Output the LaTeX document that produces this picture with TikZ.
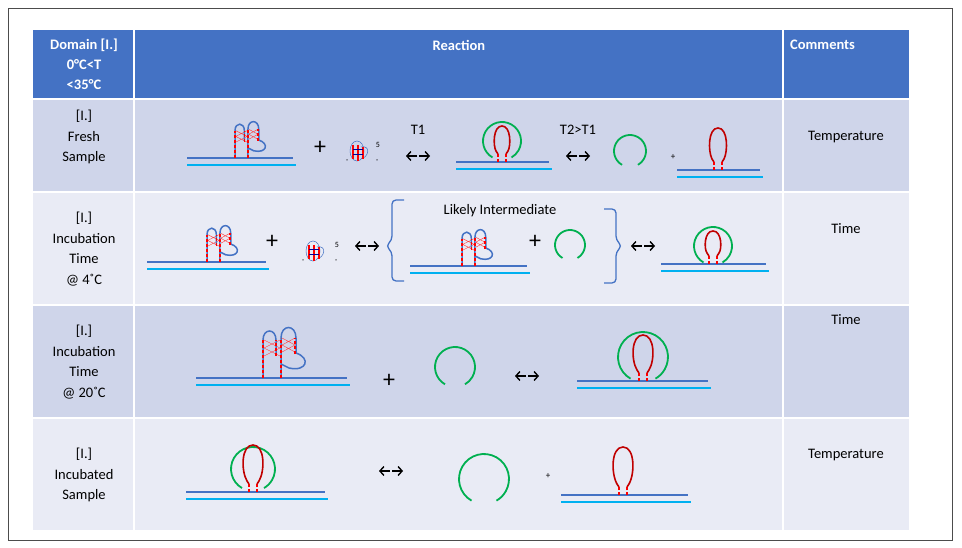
\documentclass[tikz,border=0pt]{standalone}
\usepackage{fontspec}
\setmainfont{Carlito}
\usetikzlibrary{arrows.meta}
\begin{document}
\begin{tikzpicture}[x=1pt,y=-1pt,
 dk/.style={draw={rgb,255:red,68;green,114;blue,196},line width=1.6pt},
 lt/.style={draw={rgb,255:red,0;green,176;blue,240},line width=1.6pt},
 rd/.style={draw={rgb,255:red,192;green,0;blue,0},line width=1.6pt},
 gr/.style={draw={rgb,255:red,0;green,176;blue,80},line width=1.8pt},
 bl/.style={draw={rgb,255:red,68;green,114;blue,196},line width=1.8pt},
 tx/.style={font=\fontsize{14.5}{20.5}\selectfont,align=center,inner sep=0},
 hd/.style={tx,text=white,font=\fontsize{14.5}{20}\selectfont\bfseries},
 ar/.style={line width=1.4pt,-{Straight Barb[length=4pt,width=9pt]}},
 pl/.style={font=\fontsize{24}{24}\selectfont,inner sep=0}]
\useasboundingbox (0,0) rectangle (962,548);
\fill[white] (0,0) rectangle (962,548);
\draw[black!70,line width=0.8pt] (8,8) rectangle (952,540);
\definecolor{hdr}{RGB}{68,114,196}
\definecolor{ra}{RGB}{207,213,234}
\definecolor{rb}{RGB}{233,235,245}
\fill[hdr] (33,30) rectangle (909,99);
\fill[ra] (33,99) rectangle (909,192);
\fill[rb] (33,192) rectangle (909,305);
\fill[ra] (33,305) rectangle (909,418);
\fill[rb] (33,418) rectangle (909,530);
\foreach \yy in {99,192,305,418} \draw[white,line width=1.5pt] (33,\yy) -- (909,\yy);
\foreach \xx in {134,783} \draw[white,line width=1.5pt] (\xx,30) -- (\xx,530);
\newcommand\dup[3]{\draw[dk] (#1,#3) -- (#2,#3); \draw[lt] (#1,#3+7) -- (#2+3,#3+7);}
\newcommand\hp[4]{% x y h w
 \draw[red,line width=1.2pt,densely dashed] (#1-4,#2) -- (#1-4,#2-8) (#1+4,#2) -- (#1+4,#2-8);
 \draw[rd] (#1-4,#2-8) -- (#1-6,#2-11) .. controls (#1-#4,#2-0.45*#3) and (#1-#4,#2-#3) .. (#1,#2-#3)
   .. controls (#1+#4,#2-#3) and (#1+#4,#2-0.45*#3) .. (#1+6,#2-11) -- (#1+4,#2-8);}
\newcommand\gc[3]{\draw[gr] (#1,#2) ++(120:#3) arc[start angle=120,end angle=420,radius=#3];}
\newcommand\lr[3]{\coordinate (#1) at (#2,#3); \draw[ar] (#1) ++(-1,0) -- ++(-11,0); \draw[ar] (#1) ++(1,0) -- ++(11,0);}
\newcommand\cx[3]{% left stem x, y, scale
 \begin{scope}[shift={(#1,#2)},scale=#3]
 \draw[red!70!pink,line width=0.4pt] (1,-38) -- (17,-30) -- (1,-22) (17,-38) -- (1,-30) -- (17,-22)
   (19,-40) -- (32,-33) -- (19,-26) (32,-40) -- (19,-33) -- (32,-26);
 \draw[bl,line width=1.5pt] (0,0) -- (0,-38) .. controls (0,-50) and (13,-50) .. (13,-38) -- (13,-24)
   (18,0) -- (18,-40) .. controls (18,-54) and (33,-54) .. (33,-40) -- (33,-25)
   .. controls (48,-20) and (44,-6) .. (26,-10) -- (18,-14);
 \draw[red,line width=1.4pt,densely dashed] (0,0) -- (0,-38) (18,0) -- (18,-40) (13,-22) -- (13,-38) (32,-24) -- (32,-40);
 \end{scope}}
\newcommand\sg[3]{% small glyph
 \begin{scope}[shift={(#1,#2)}]
 \draw[bl,line width=0.5pt] (0,0) circle[x radius=7,y radius=10] (4,-4) .. controls (14,-6) and (12,6) .. (4,8);
 \draw[red,line width=1.2pt] (-4,-6)--(-4,8) (1,-6)--(1,10) (6,-4)--(6,8);
 \draw[blue!60!black,line width=0.4pt] (-4,-2)--(6,-2) (-4,3)--(6,3);
 \node[font=\fontsize{8}{8}\selectfont,inner sep=0] at (#3,-6) {5};
 \node[font=\fontsize{8}{8}\selectfont,inner sep=0] at (-10,10) {,};
 \node[font=\fontsize{8}{8}\selectfont,inner sep=0] at (#3-1,10) {,};
 \end{scope}}
% header
\node[hd] (h1) at (84,64) {Domain [I.]\\0°C<T\\<35°C};
\node[hd] (h2) at (459,45) {Reaction};
\node[hd,anchor=west] (h3) at (790,45) {Comments};
\node[tx] (c1) at (84,137) {[I.]\\Fresh\\Sample};
\node[tx] (c2) at (84,249) {[I.]\\Incubation\\Time\\@ 4˚C};
\node[tx] (c3) at (84,362) {[I.]\\Incubation\\Time\\@ 20˚C};
\node[tx] (c4) at (84,475) {[I.]\\Incubated\\Sample};
\node[tx] (m1) at (846,137) {Temperature};
\node[tx] (m2) at (846,229) {Time};
\node[tx] (m3) at (846,320) {Time};
\node[tx] (m4) at (846,455) {Temperature};
% row1
\dup{187}{293}{158} \cx{235}{158}{0.72}
\node[pl] (p1) at (320,148) {+};
\sg{357}{151}{21}
\node[tx] (t1) at (418,130) {T1};
\lr{a1}{418}{156}
\dup{456}{549}{162} \gc{502}{141}{19} \hp{502}{162}{36}{9}
\node[tx] (t2) at (578,130) {T2>T1};
\lr{a2}{578}{156}
\gc{630}{151}{16}
\node[font=\small,inner sep=0] (p2) at (673,157) {+};
\dup{677}{760}{170} \hp{718}{170}{42}{10}
% row2
\dup{147}{266}{262} \cx{207}{262}{0.72}
\node[pl] (p3) at (272,242) {+};
\sg{313}{251}{24}
\lr{a3}{367}{246}
\draw[bl,line width=1.3pt,rounded corners=4pt] (404,200) -- (392,200) -- (392,240) -- (386,246) -- (392,252) -- (392,281) -- (404,281);
\draw[bl,line width=1.3pt,rounded corners=4pt] (604,209) -- (616,209) -- (616,240) -- (622,246) -- (616,252) -- (616,283) -- (604,283);
\node[tx] (li) at (500,211) {Likely Intermediate};
\dup{410}{527}{266} \cx{462}{266}{0.72}
\node[pl] (p4) at (535,242) {+};
\gc{570}{245}{15}
\lr{a4}{643}{246}
\dup{661}{766}{264} \gc{713}{246}{19} \hp{713}{264}{33}{9}
% row3
\dup{196}{347}{378} \cx{263}{378}{1.0}
\node[pl] (p5) at (389,381) {+};
\gc{455}{367}{20}
\lr{a5}{527}{376}
\dup{577}{708}{381} \gc{643}{357}{25} \hp{643}{381}{46}{12}
% row4
\dup{186}{325}{492} \gc{253}{469}{22} \hp{253}{492}{47}{12}
\lr{a6}{391}{471}
\gc{484}{479}{25}
\node[font=\small,inner sep=0] (p6) at (548,476) {+};
\dup{561}{688}{495} \hp{623}{495}{48}{12}
\end{tikzpicture}
\end{document}
